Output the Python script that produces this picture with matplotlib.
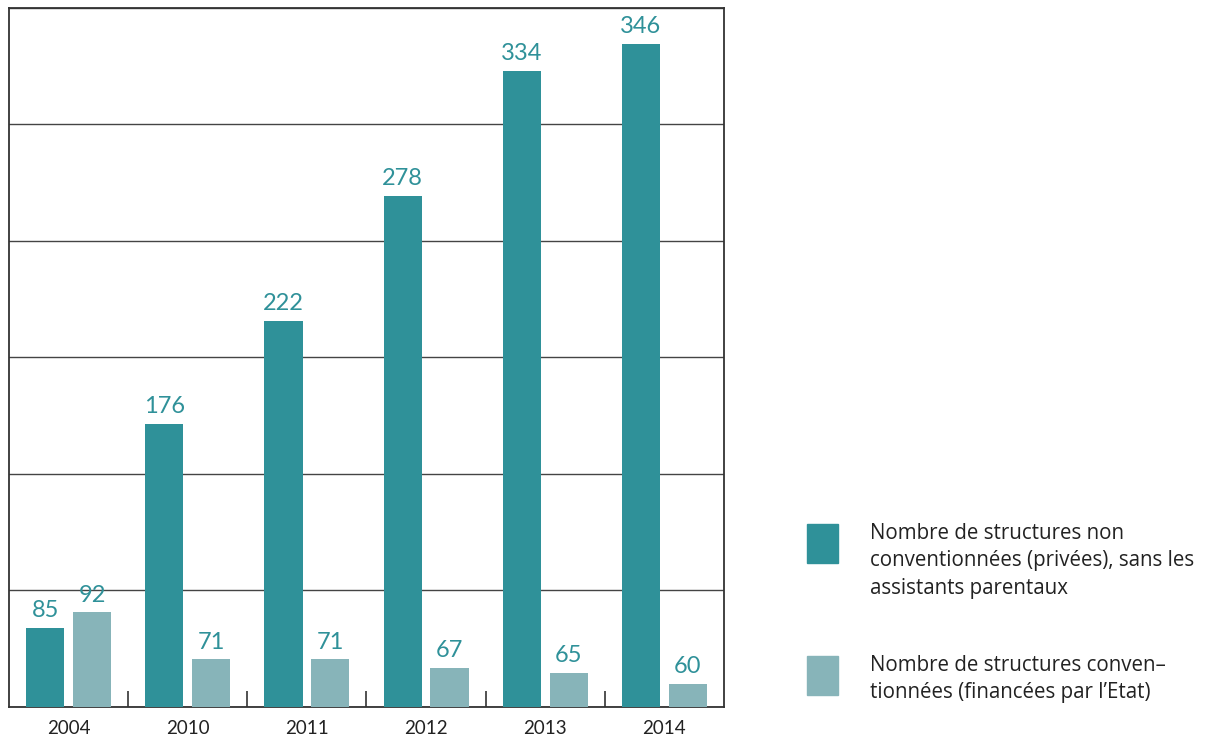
import numpy as np
import matplotlib.pyplot as plt
from matplotlib.patches import Rectangle

# données
years = ["2004", "2010", "2011", "2012", "2013", "2014"]
privees = [85, 176, 222, 278, 334, 346]
conventionnees = [92, 71, 71, 67, 65, 60]
labels = [
    "Nombre de structures non\nconventionnées (privées), sans les\nassistants parentaux",
    "Nombre de structures conven–\ntionnées (financées par l\u2019Etat)",
]
colors = ["#2f9199", "#87b4b9"]

plt.rcParams["font.family"] = ["Lato", "DejaVu Sans"]

fig = plt.figure(figsize=(12.06, 7.39), dpi=100)
ax = fig.add_axes([9 / 1206, 1 - 706.5 / 739, 715 / 1206, 698.5 / 739])

x = np.arange(len(years))
w = 0.32
off = 0.197
for vals, dx, c in [(privees, -off, colors[0]), (conventionnees, off, colors[1])]:
    bars = ax.bar(x + dx, vals, width=w, color=c, zorder=3)
    ax.bar_label(bars, padding=5, color="#2f9199", fontsize=17)

ax.set_xlim(-0.5, len(years) - 0.5)
ax.set_ylim(50, 362)
ax.set_yticks(np.linspace(50, 362, 7))
ax.tick_params(axis="y", left=False, labelleft=False)
ax.grid(axis="y", color="#444444", linewidth=1, zorder=0)

ax.set_xticks(x)
ax.set_xticklabels(years, fontsize=13.5, color="#222222")
ax.tick_params(axis="x", which="major", length=0, pad=10)
ax.set_xticks(x[:-1] + 0.5, minor=True)
ax.tick_params(axis="x", which="minor", direction="in", length=11.5,
               width=1.2, color="#333333")

for s in ax.spines.values():
    s.set_color("#333333")
    s.set_linewidth(1.3)

# légende
for i, (lab, c) in enumerate(zip(labels, colors)):
    top = [524, 656][i]
    fig.add_artist(Rectangle((807 / 1206, 1 - (top + 39) / 739), 31 / 1206, 39 / 739,
                             transform=fig.transFigure, color=c))
    fig.text(870 / 1206, 1 - (top - 1) / 739, lab, va="top", ha="left",
             fontsize=14.8, color="#222222", linespacing=1.4,
             family=["Open Sans", "DejaVu Sans"])

fig.savefig("out.png", dpi=100)
